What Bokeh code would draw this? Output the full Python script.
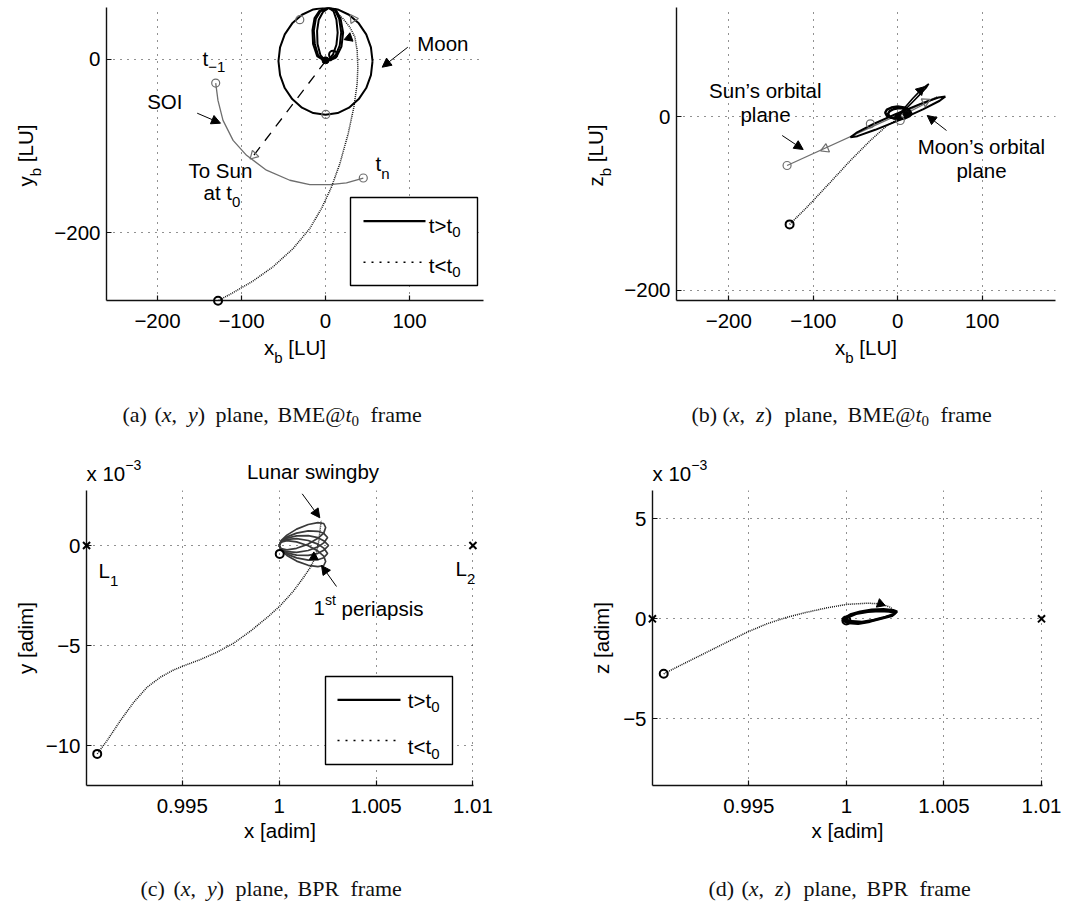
import math
from bokeh.plotting import figure
from bokeh.models import Range1d, FixedTicker, CustomJSTickFormatter, Label, Arrow, NormalHead, GridBox
from bokeh.layouts import column, row
from bokeh.embed import file_html
from bokeh.resources import INLINE

# ===================== DATA =====================
# (a) (x, y) plane, BME@t0 frame  [LU]
a_pre_x = [-127.9, -110.0, -86.2, -62.4, -38.5, -18.7, -4.8, 7.2, 17.1, 27.0, 33.8, 37.7, 38.5, 37.7, 35.0, 29.0, 21.0, 13.0, 6.0]
a_pre_y = [-278.8, -269.6, -256.0, -239.6, -218.5, -195.4, -172.3, -147.3, -120.4, -85.8, -55.0, -28.0, -8.8, 10.4, 25.8, 37.3, 47.0, 54.6, 59.6]
a_loop_xs = [[-0.8, -8.7, -12.7, -13.9, -11.5, -6.0, 3.2, 11.1, 16.3, 18.7, 17.0, 12.3, 5.2, -0.8],
             [-0.5, -6.0, -9.5, -10.0, -8.0, -3.0, 4.0, 9.5, 13.0, 14.5, 13.0, 9.0, 4.0, -0.5],
             [-1.0, -10.0, -14.8, -15.5, -13.0, -7.0, 3.0, 12.0, 18.0, 21.0, 19.0, 13.5, 6.0, -1.0]]
a_loop_ys = [[-1.2, 4.6, 18.0, 33.5, 47.0, 55.8, 59.8, 57.3, 47.0, 31.5, 16.2, 5.4, -0.4, -1.2],
             [-1.0, 5.0, 18.0, 33.0, 46.0, 55.0, 59.5, 56.0, 46.0, 31.0, 17.0, 6.0, 0.0, -1.0],
             [-1.5, 4.0, 18.0, 34.0, 48.0, 56.5, 59.8, 58.0, 47.0, 31.0, 15.0, 4.0, -1.0, -1.5]]
a_moon_x = [56.0, 54.1, 48.5, 39.6, 28.0, 14.5, 0.0, -14.5, -28.0, -39.6, -48.5, -54.1, -56.0,
            -54.1, -48.5, -39.6, -28.0, -14.5, 0.0, 14.5, 28.0, 39.6, 48.5, 54.1, 56.0]
a_moon_y = [-2.0, 14.0, 29.0, 41.8, 51.7, 57.9, 60.0, 57.9, 51.7, 41.8, 29.0, 14.0, -2.0,
            -18.0, -33.0, -45.8, -55.7, -61.9, -64.0, -61.9, -55.7, -45.8, -33.0, -18.0, -2.0]
a_sun_x = [0.0, -85.4]
a_sun_y = [-2.0, -110.8]
a_soi_x = [-130.7, -128.0, -122.0, -110.0, -94.0, -70.3, -42.5, -18.7, 5.2, 25.0, 45.0]
a_soi_y = [-27.3, -47.3, -70.4, -93.5, -110.8, -128.0, -139.6, -144.6, -144.6, -142.7, -137.0]
a_grey_o_x = [-130.7, 45.0, -30.6, 0.4]
a_grey_o_y = [-27.3, -137.0, 46.0, -63.5]
a_grey_tri_x = [-85.4, 33.0]
a_grey_tri_y = [-110.8, 47.0]
a_grey_tri_ang = [2.36, 0.6]
a_start_x = [-127.9]          # departure point (sits on the lower axis)
a_start_y = [-278.8]
a_blk_o_x = [9.0]
a_blk_o_y = [5.4]
a_dot_x = [0.0]
a_dot_y = [-1.0]
a_blk_tri_x = [28.0]
a_blk_tri_y = [25.0]
a_blk_tri_ang = [1.92]
a_xticks = [-200, -100, 0, 100]
a_yticks = [-200, 0]

# (b) (x, z) plane, BME@t0 frame  [LU]
b_pre_x = [-128.0, -107.4, -79.7, -56.0, -32.4, -12.6, 1.2]
b_pre_y = [-124.0, -104.2, -75.5, -50.6, -27.6, -10.3, -2.7]
b_sunplane_x = [-131.0, 46.6]
b_sunplane_y = [-56.3, 22.2]
b_moon_x = [56.5, 48.2, 27.1, -1.3, -29.3, -49.2, -56.0, -47.7, -26.6, 1.8, 29.8, 49.7, 56.5]
b_moon_y = [23.0, 21.8, 14.5, 3.3, -8.9, -18.9, -23.8, -22.6, -15.3, -4.1, 8.1, 18.1, 23.0]
b_ring_xs = [[15.0, 12.8, 7.4, 0.0, -7.4, -12.8, -14.8, -12.8, -7.4, 0.0, 7.4, 12.8, 15.0],
             [16.5, 14.5, 9.5, 2.5, -4.5, -9.5, -11.5, -9.5, -4.0, 2.5, 9.0, 14.0, 16.5]]
b_ring_ys = [[4.4, 8.0, 10.5, 11.5, 10.3, 7.9, 4.4, 0.8, -1.6, -2.6, -1.3, 1.0, 4.4],
             [3.0, 6.3, 8.8, 9.6, 8.6, 6.2, 3.0, -0.2, -2.4, -3.2, -2.0, 0.3, 3.0]]
b_spindle_x = [0.0, 9.0, 18.0, 27.0, 33.0, 36.7, 34.0, 27.0, 18.0, 9.0, 0.0]
b_spindle_y = [0.0, 11.0, 21.0, 30.0, 35.0, 37.5, 33.5, 26.0, 17.0, 8.0, 0.0]
b_gspindle_x = [0.0, 15.0, 30.0, 46.6, 30.0, 15.0, 0.0]
b_gspindle_y = [0.0, 9.0, 16.0, 22.2, 13.5, 6.0, 0.0]
b_grey_o_x = [-131.0, -32.4, 3.0]
b_grey_o_y = [-56.3, -8.4, -4.6]
b_grey_tri_x = [-85.7, 33.0]
b_grey_tri_y = [-37.2, 17.0]
b_grey_tri_ang = [1.97, -1.1]
b_blk_o_x = [-128.0]
b_blk_o_y = [-124.0]
b_blk_tri_x = [26.8]
b_blk_tri_y = [29.9]
b_blk_tri_ang = [-0.785]
b_dot_x = [0.0, 10.0]
b_dot_y = [0.0, 3.0]
b_xticks = [-200, -100, 0, 100]
b_yticks = [-200, 0]

# (c) (x, y) plane, BPR frame  [adim], y in 1e-3
c_pre_x = [0.99061, 0.99112, 0.99181, 0.99250, 0.99319, 0.99388, 0.99456, 0.99525, 0.99594, 0.99680,
           0.99766, 0.99852, 0.99938, 1.00007, 1.00076, 1.00127, 1.00162, 1.00187, 1.00205, 1.00217]
c_pre_y = [-10.42, -9.75, -8.75, -7.83, -7.08, -6.58, -6.22, -5.95, -5.70, -5.33,
           -4.88, -4.28, -3.60, -3.00, -2.25, -1.58, -1.08, -0.58, 0.25, 1.25]
c_petal_xs = [[1.0, 1.0001, 1.0004, 1.0009, 1.0015, 1.0020, 1.0023, 1.00240, 1.0023, 1.0020, 1.0015, 1.0009, 1.0004, 1.0001, 1.0],
              [1.0, 1.0001, 1.0004, 1.0009, 1.0015, 1.0020, 1.0023, 1.00250, 1.0023, 1.0020, 1.0015, 1.0009, 1.0004, 1.0001, 1.0],
              [1.0, 1.0001, 1.0004, 1.0009, 1.0015, 1.0020, 1.0023, 1.00255, 1.0023, 1.0020, 1.0015, 1.0009, 1.0004, 1.0001, 1.0],
              [1.0, 1.0001, 1.0004, 1.0009, 1.0015, 1.0020, 1.0023, 1.00250, 1.0023, 1.0020, 1.0015, 1.0009, 1.0004, 1.0001, 1.0],
              [1.0, 1.0001, 1.0004, 1.0009, 1.0015, 1.0020, 1.0023, 1.00240, 1.0023, 1.0020, 1.0015, 1.0009, 1.0004, 1.0001, 1.0]]
c_petal_ys = [[0.0, 0.24, 0.52, 0.82, 1.05, 1.14, 1.10, 0.90, 0.62, 0.36, 0.07, -0.14, -0.22, -0.16, 0.0],
              [0.0, 0.22, 0.43, 0.62, 0.73, 0.71, 0.61, 0.40, 0.13, -0.07, -0.25, -0.34, -0.31, -0.18, 0.0],
              [0.0, 0.20, 0.37, 0.48, 0.49, 0.39, 0.24, 0.00, -0.24, -0.39, -0.49, -0.48, -0.37, -0.20, 0.0],
              [0.0, 0.18, 0.31, 0.34, 0.25, 0.07, -0.13, -0.40, -0.61, -0.71, -0.73, -0.62, -0.43, -0.22, 0.0],
              [0.0, 0.17, 0.24, 0.18, -0.01, -0.28, -0.53, -0.80, -1.00, -1.06, -0.99, -0.78, -0.50, -0.23, 0.0]]
c_blk_o_x = [0.99061, 1.00003]
c_blk_o_y = [-10.42, -0.42]
c_blk_tri_x = [1.00179]
c_blk_tri_y = [-0.58]
c_blk_tri_ang = [0.0]
c_xticks = [0.995, 1.0, 1.005, 1.01]
c_yticks = [-10, -5, 0]

# (d) (x, z) plane, BPR frame  [adim], z in 1e-3
d_pre_x = [0.99064, 0.99149, 0.99252, 0.99371, 0.99491, 0.99593, 0.99696, 0.99798, 0.99901, 1.00003,
           1.00106, 1.00174, 1.00225, 1.00246]
d_pre_y = [-2.75, -2.33, -1.83, -1.25, -0.67, -0.25, 0.08, 0.33, 0.55, 0.72, 0.78, 0.75, 0.58, 0.38]
d_loop_xs = [[0.99978, 1.0001, 1.0006, 1.0012, 1.0018, 1.0023, 1.00256, 1.0024, 1.0019, 1.0013, 1.0007, 1.0002, 0.99978],
             [0.99985, 1.0002, 1.0007, 1.0013, 1.0019, 1.0024, 1.0026, 1.00245, 1.0020, 1.0014, 1.0008, 1.0003, 0.99985],
             [0.9998, 1.0001, 1.0005, 1.0011, 1.0017, 1.0022, 1.0025, 1.00235, 1.0018, 1.0012, 1.0006, 1.0001, 0.9998]]
d_loop_ys = [[-0.05, 0.15, 0.30, 0.40, 0.43, 0.40, 0.33, 0.20, 0.05, -0.10, -0.20, -0.17, -0.05],
             [0.0, 0.22, 0.36, 0.46, 0.48, 0.44, 0.36, 0.24, 0.10, -0.05, -0.15, -0.12, 0.0],
             [-0.1, 0.08, 0.24, 0.34, 0.38, 0.36, 0.28, 0.14, 0.0, -0.15, -0.25, -0.22, -0.1]]
d_blk_o_x = [0.99064, 1.0]
d_blk_o_y = [-2.75, -0.08]
d_blk_tri_x = [1.00174]
d_blk_tri_y = [0.75]
d_blk_tri_ang = [-1.92]
d_xticks = [0.995, 1.0, 1.005, 1.01]
d_yticks = [-5, 0, 5]

# Lagrange points L1, L2 (both BPR panels)
L_x = [0.99006, 1.01]
L_y = [0.0, 0.0]

# ===================== STYLE / LAYOUT =====================
SANS = "Liberation Sans"
SERIF = "Liberation Serif"
FS = 20.5
SUB_FS = 15
SUP_FS = 14
CAP_FS = 22
MID = 0.35   # distance (in em) from alphabetic baseline up to the text's middle

SANS_W = {' ': .278, '(': .333, ')': .333, '[': .278, ']': .278, ',': .278, '.': .278, '-': .333,
          '−': .584, '>': .584, '<': .584, '’': .222, "'": .191,
          'a': .556, 'b': .556, 'c': .5, 'd': .556, 'e': .556, 'f': .278, 'g': .556, 'h': .556,
          'i': .222, 'j': .222, 'k': .5, 'l': .222, 'm': .833, 'n': .556, 'o': .556, 'p': .556,
          'q': .556, 'r': .333, 's': .5, 't': .278, 'u': .556, 'v': .5, 'w': .722, 'x': .5,
          'y': .5, 'z': .5, 'L': .556, 'U': .722, 'M': .833, 'S': .667, 'O': .778, 'T': .611,
          'I': .278}
SERIF_W = {' ': .25, '(': .333, ')': .333, ',': .25, '@': .921, 'B': .667, 'M': .889, 'E': .611,
           'P': .556, 'R': .667, 't': .278, '0': .5, 'x': .444, 'y': .444, 'z': .389}


def tw(s, fs, table):
    return sum(table.get(c, 0.556 if c.isdigit() else 0.5) for c in s) * fs


FMT = "return tick < 0 ? '\\u2212' + String(-tick) : String(tick);"

# page-wide transparent overlay (page pixel coordinates, y downwards) for text & call-outs
ov = figure(width=1077, height=906, frame_width=1077, frame_height=906,
            x_range=Range1d(0, 1077), y_range=Range1d(906, 0),
            x_axis_type=None, y_axis_type=None, toolbar_location=None, output_backend="svg",
            min_border=0, title=None)
ov.outline_line_color = None
ov.background_fill_alpha = 0
ov.border_fill_alpha = 0
ov.frame_align = False


class Panel:
    def __init__(self, ox, oy, bl, bt, fw, fh, br, bb, xr, yr, xticks, yticks):
        self.ox, self.oy, self.bl, self.bt, self.fw, self.fh = ox, oy, bl, bt, fw, fh
        self.x0, self.x1 = xr
        self.y0, self.y1 = yr
        p = figure(width=bl + fw + br, height=bt + fh + bb, frame_width=fw, frame_height=fh,
                   min_border_left=bl, min_border_right=br, min_border_top=bt, min_border_bottom=bb,
                   x_range=Range1d(*xr), y_range=Range1d(*yr),
                   toolbar_location=None, output_backend="svg", title=None)
        p.frame_align = False
        p.outline_line_color = None
        p.background_fill_color = "white"
        p.border_fill_color = "white"
        for ax, ticks in ((p.xaxis[0], xticks), (p.yaxis[0], yticks)):
            ax.ticker = FixedTicker(ticks=ticks)
            ax.formatter = CustomJSTickFormatter(code=FMT)
            ax.major_tick_in = 5
            ax.major_tick_out = 0
            ax.minor_tick_in = 0
            ax.minor_tick_out = 0
            ax.axis_line_color = "#111111"
            ax.axis_line_width = 1.4
            ax.major_tick_line_color = "#111111"
            ax.major_tick_line_width = 1.2
            ax.major_label_text_font = SANS
            ax.major_label_text_font_size = f"{FS}px"
            ax.major_label_text_color = "black"
        p.xaxis.major_label_standoff = 13
        p.yaxis.major_label_standoff = 6
        for g in (p.xgrid[0], p.ygrid[0]):
            g.grid_line_color = "#222222"
            g.grid_line_dash = "1 6"
            g.grid_line_width = 1
        self.p = p

    def s(self, x, y):
        """data -> page pixel"""
        return (self.ox + self.bl + (x - self.x0) / (self.x1 - self.x0) * self.fw,
                self.oy + self.bt + (self.y1 - y) / (self.y1 - self.y0) * self.fh)


def rich(ax, ay, parts, align="left", rot=False, font=SANS, table=SANS_W, fs=FS,
         sub_fs=SUB_FS, sup_fs=SUP_FS, drop=7, rise=10, color="black"):
    """text made of normal / sub / sup runs; (ax, ay) = start of the alphabetic baseline (page px)"""
    norm = []
    for pt in parts:
        t, k = pt[0], pt[1]
        st = pt[2] if len(pt) > 2 else "normal"
        size = {"n": fs, "sub": sub_fs, "sup": sup_fs}[k]
        norm.append((t, k, st, size, tw(t, size, table)))
    total = sum(n[4] for n in norm)
    cur = -total / 2 if align == "center" else 0.0
    for t, k, st, size, w in norm:
        lead = len(t) - len(t.lstrip(" "))
        body = t.strip(" ")
        off = tw(" " * lead, size, table)
        shift = drop if k == "sub" else (-rise if k == "sup" else 0)
        if rot:
            px, py = ax + shift - MID * size, ay - (cur + off)
        else:
            px, py = ax + cur + off, ay + shift - MID * size
        if body:
            ov.add_layout(Label(x=px, y=py, text=body, text_font=font, text_font_size=f"{size}px",
                                text_font_style=st, text_color=color, text_align="left",
                                text_baseline="middle", angle=(math.pi / 2 if rot else 0.0)))
        cur += w


def arrow(a0, a1, b0, b1):
    ov.add_layout(Arrow(x_start=a0, y_start=a1, x_end=b0, y_end=b1,
                        end=NormalHead(size=9, fill_color="black", line_color="black", line_width=1),
                        line_color="black", line_width=1.0))


def legend(box, solid_y, dotted_y, lx0, lx1, tx, ty1, ty2):
    l, t, r, b = box
    ov.quad(left=[l], right=[r], top=[t], bottom=[b], fill_color="white", line_color="black", line_width=1.4)
    ov.line([lx0, lx1], [solid_y, solid_y], line_color="black", line_width=2.2)
    ov.line([lx0, lx1], [dotted_y, dotted_y], line_color="black", line_width=1.6, line_dash="2 6")
    rich(tx, ty1, [("t>t", "n"), ("0", "sub")], drop=5)
    rich(tx, ty2, [("t<t", "n"), ("0", "sub")], drop=5)


def caption(base, groups):
    for x, parts in groups:
        rich(x, base, parts, font=SERIF, table=SERIF_W, fs=CAP_FS, sub_fs=15, drop=4, color="#111111")


def math_pair(a, b):
    """'(a, b)' with italic variables, upright delimiters"""
    return [("(", "n"), (a, "n", "italic"), (",  ", "n"), (b, "n", "italic"), (")", "n")]


def overlay_marks(P, xs, ys, **kw):
    pts = [P.s(x, y) for x, y in zip(xs, ys)]
    ov.scatter([q[0] for q in pts], [q[1] for q in pts], **kw)


GREY = "#6e6e6e"
PRE = dict(line_color="#111111", line_width=1.5, line_dash="1 1")

# ===================== (a) =====================
A = Panel(0, 0, 106, 7, 377, 293, 57, 145, (-260.7, 188.1), (-278.6, 60.1), a_xticks, a_yticks)
pa = A.p
pa.line(a_soi_x, a_soi_y, line_color=GREY, line_width=1.3)
pa.line(a_sun_x, a_sun_y, line_color="black", line_width=1.3, line_dash="10 8")
pa.line(a_pre_x, a_pre_y, **PRE)
pa.line(a_moon_x, a_moon_y, line_color="black", line_width=2.0)
pa.multi_line(a_loop_xs, a_loop_ys, line_color="black", line_width=2.0)
pa.scatter(a_grey_o_x, a_grey_o_y, marker="circle", size=8, fill_color=None, line_color=GREY, line_width=1.2)
pa.scatter(a_grey_tri_x, a_grey_tri_y, marker="triangle", size=9, angle=a_grey_tri_ang,
           fill_color=None, line_color=GREY, line_width=1.2)
pa.scatter(a_blk_o_x, a_blk_o_y, marker="circle", size=8, fill_color=None, line_color="black", line_width=2)
pa.scatter(a_dot_x, a_dot_y, marker="circle", size=7, fill_color="black", line_color="black")
pa.scatter(a_blk_tri_x, a_blk_tri_y, marker="triangle", size=9, angle=a_blk_tri_ang,
           fill_color="black", line_color="black")
overlay_marks(A, a_start_x, a_start_y, marker="circle", size=8, fill_color=None, line_color="black", line_width=2)
legend((350, 197, 477, 285), 220.7, 261.7, 363, 425, 428.3, 231.7, 271.7)
arrow(196.7, 112.7, 220, 122.7)
arrow(407.3, 46.7, 381.7, 66.7)
rich(202, 65, [("t", "n"), ("−1", "sub")])
rich(146.7, 108, [("SOI", "n")])
rich(188, 177, [("To Sun", "n")])
rich(203, 199, [("at t", "n"), ("0", "sub")], drop=8)
rich(375, 170, [("t", "n"), ("n", "sub")], drop=8)
rich(416.7, 50, [("Moon", "n")])
rich(294.5, 354, [("x", "n"), ("b", "sub"), (" [LU]", "n")], align="center", drop=8)
rich(32, 155, [("y", "n"), ("b", "sub"), (" [LU]", "n")], align="center", rot=True, drop=8)
caption(422, [(122, [("(a)", "n")]), (154, math_pair("x", "y")), (215, [("plane,", "n")]),
              (277, [("BME@", "n"), ("t", "n", "italic"), ("0", "sub")]), (370, [("frame", "n")])])

# ===================== (b) =====================
B = Panel(540, 0, 136, 7, 379, 293, 22, 145, (-261.9, 186.8), (-211.5, 125.3), b_xticks, b_yticks)
pb = B.p
pb.line(b_sunplane_x, b_sunplane_y, line_color=GREY, line_width=1.3)
pb.line(b_gspindle_x, b_gspindle_y, line_color=GREY, line_width=1.3)
pb.line(b_pre_x, b_pre_y, **PRE)
pb.line(b_moon_x, b_moon_y, line_color="black", line_width=2.0)
pb.multi_line(b_ring_xs, b_ring_ys, line_color="black", line_width=2.4)
pb.line(b_spindle_x, b_spindle_y, line_color="black", line_width=1.6)
pb.scatter(b_grey_o_x, b_grey_o_y, marker="circle", size=8, fill_color=None, line_color=GREY, line_width=1.2)
pb.scatter(b_grey_tri_x, b_grey_tri_y, marker="triangle", size=9, angle=b_grey_tri_ang,
           fill_color=None, line_color=GREY, line_width=1.2)
pb.scatter(b_blk_o_x, b_blk_o_y, marker="circle", size=8, fill_color=None, line_color="black", line_width=2)
pb.scatter(b_blk_tri_x, b_blk_tri_y, marker="triangle", size=9, angle=b_blk_tri_ang,
           fill_color="black", line_color="black")
pb.scatter(b_dot_x, b_dot_y, marker="circle", size=6, fill_color="black", line_color="black")
arrow(781.7, 135, 802.7, 149)
arrow(946, 130, 926.7, 115)
rich(765, 96.7, [("Sun’s orbital", "n")], align="center")
rich(765, 121, [("plane", "n")], align="center")
rich(981, 152.7, [("Moon’s orbital", "n")], align="center")
rich(981, 176.7, [("plane", "n")], align="center")
rich(865.5, 354, [("x", "n"), ("b", "sub"), (" [LU]", "n")], align="center", drop=8)
rich(602, 155, [("z", "n"), ("b", "sub"), (" [LU]", "n")], align="center", rot=True, drop=8)
caption(422, [(691, [("(b)", "n")]), (722, math_pair("x", "z")), (784, [("plane,", "n")]),
              (847, [("BME@", "n"), ("t", "n", "italic"), ("0", "sub")]), (940, [("frame", "n")])])

# ===================== (c) =====================
C = Panel(0, 445, 86, 45, 387, 295, 67, 121, (0.990057, 1.01003), (-12.0, 2.75), c_xticks, c_yticks)
pc = C.p
pc.line(c_pre_x, c_pre_y, **PRE)
pc.multi_line(c_petal_xs, c_petal_ys, line_color="#3a3a3a", line_width=1.7)
pc.scatter(c_blk_o_x, c_blk_o_y, marker="circle", size=8, fill_color=None, line_color="black", line_width=2)
pc.scatter(c_blk_tri_x, c_blk_tri_y, marker="triangle", size=9, angle=c_blk_tri_ang,
           fill_color="black", line_color="black")
overlay_marks(C, L_x, L_y, marker="x", size=10, line_color="black", line_width=2)
legend((325, 676, 452, 764), 699.3, 740, 337, 400, 407.3, 706.7, 753.3)
arrow(301.7, 493.3, 319.3, 517.3)
arrow(336, 586, 321, 565)
rich(312.5, 478, [("Lunar swingby", "n")], align="center")
rich(98, 576.7, [("L", "n"), ("1", "sub")], drop=9)
rich(455, 575, [("L", "n"), ("2", "sub")], drop=9)
rich(313, 615, [("1", "n"), ("st", "sup"), (" periapsis", "n")], rise=11)
rich(86, 480, [("x 10", "n"), ("−3", "sup")], rise=11)
rich(279.5, 837, [("x [adim]", "n")], align="center")
rich(32, 637.5, [("y [adim]", "n")], align="center", rot=True)
caption(896, [(140, [("(c)", "n")]), (173, math_pair("x", "y")), (235, [("plane,", "n")]),
              (297, [("BPR", "n")]), (350, [("frame", "n")])])

# ===================== (d) =====================
D = Panel(540, 445, 112, 45, 390, 295, 35, 121, (0.990065, 1.01005), (-8.335, 6.415), d_xticks, d_yticks)
pd_ = D.p
pd_.line(d_pre_x, d_pre_y, **PRE)
pd_.multi_line(d_loop_xs, d_loop_ys, line_color="black", line_width=2.2)
pd_.scatter(d_blk_o_x, d_blk_o_y, marker="circle", size=8, fill_color=None, line_color="black", line_width=2)
pd_.scatter(d_blk_tri_x, d_blk_tri_y, marker="triangle", size=9, angle=d_blk_tri_ang,
            fill_color="black", line_color="black")
overlay_marks(D, L_x, L_y, marker="x", size=10, line_color="black", line_width=2)
rich(652, 480, [("x 10", "n"), ("−3", "sup")], rise=11)
rich(847, 837, [("x [adim]", "n")], align="center")
rich(608, 637.5, [("z [adim]", "n")], align="center", rot=True)
caption(896, [(708, [("(d)", "n")]), (741, math_pair("x", "z")), (803, [("plane,", "n")]),
              (866, [("BPR", "n")]), (919, [("frame", "n")])])

panels = column(row(pa, pb, spacing=0), row(pc, pd_, spacing=0), spacing=0)
layout = GridBox(children=[(panels, 0, 0), (ov, 0, 0)], spacing=0)
open("out.html", "w", encoding="utf-8").write(file_html(layout, INLINE, title="orbits"))
